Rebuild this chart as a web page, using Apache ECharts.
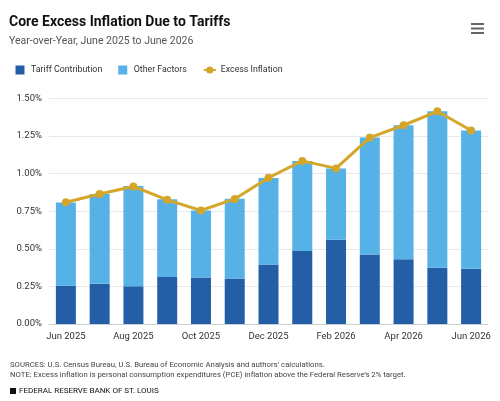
<!DOCTYPE html>
<html>
<head>
<meta charset="utf-8">
<script src="https://cdn.jsdelivr.net/npm/echarts@6/dist/echarts.min.js"></script>
<style>
    html, body { margin: 0; padding: 0; background: #fff; }
    #chart { width: 500px; height: 401px; }
</style>
</head>
<body>
<div id="chart"></div>
<script type="text/javascript">
    // months, one bar per month
    var months = ['Jun 2025', 'Jul 2025', 'Aug 2025', 'Sep 2025', 'Oct 2025', 'Nov 2025', 'Dec 2025',
        'Jan 2026', 'Feb 2026', 'Mar 2026', 'Apr 2026', 'May 2026', 'Jun 2026'];
    // percent
    var tariffContribution = [0.255, 0.267, 0.251, 0.313, 0.309, 0.302, 0.395, 0.485, 0.560, 0.462, 0.431, 0.375, 0.367];
    var otherFactors = [0.554, 0.597, 0.667, 0.516, 0.446, 0.531, 0.576, 0.600, 0.475, 0.778, 0.891, 1.040, 0.920];
    var excessInflation = [0.810, 0.865, 0.915, 0.826, 0.755, 0.832, 0.973, 1.085, 1.035, 1.240, 1.322, 1.415, 1.287];
    var yTicks = [0, 0.25, 0.5, 0.75, 1.0, 1.25, 1.5];

    var chart = echarts.init(document.getElementById('chart'));
    var font = 'Roboto, "Liberation Sans", sans-serif';

    chart.setOption({
        animation: false,
        backgroundColor: '#fff',
        textStyle: { fontFamily: font },
        title: {
            text: 'Core Excess Inflation Due to Tariffs',
            subtext: 'Year-over-Year, June 2025 to June 2026',
            left: 9,
            top: 15,
            padding: 0,
            itemGap: 7,
            textStyle: { fontSize: 14, fontWeight: 'bold', color: '#111', fontFamily: font },
            subtextStyle: { fontSize: 10.5, color: '#555', fontFamily: font }
        },
        legend: {
            left: 15.5,
            top: 65.5,
            padding: 0,
            itemWidth: 12,
            itemHeight: 9,
            itemGap: 16,
            textStyle: { fontSize: 8.8, color: '#333' },
            data: [
                { name: 'Tariff Contribution', icon: 'path://M0,0h9v9h-9z' },
                { name: 'Other Factors', icon: 'path://M0,0h9v9h-9z' },
                { name: 'Excess Inflation' }
            ]
        },
        grid: { left: 49, right: 12, top: 98.5, bottom: 77 },
        xAxis: {
            type: 'category',
            data: months,
            axisTick: { show: false },
            axisLine: { lineStyle: { color: '#ccd2d8' } },
            axisLabel: { interval: 1, fontSize: 9.5, color: '#333', margin: 8 }
        },
        yAxis: {
            type: 'value',
            min: yTicks[0],
            max: yTicks[yTicks.length - 1],
            interval: 0.25,
            splitLine: { lineStyle: { color: '#e8e8e8' } },
            axisLabel: {
                fontSize: 9.5,
                color: '#333',
                margin: 7,
                formatter: function (v) { return v.toFixed(2) + '%'; }
            }
        },
        series: [
            {
                name: 'Tariff Contribution',
                type: 'bar',
                stack: 'total',
                barWidth: 20,
                itemStyle: { color: '#245ea6' },
                data: tariffContribution
            },
            {
                name: 'Other Factors',
                type: 'bar',
                stack: 'total',
                barWidth: 20,
                itemStyle: { color: '#56b2e6' },
                data: otherFactors
            },
            {
                name: 'Excess Inflation',
                type: 'line',
                symbol: 'circle',
                symbolSize: 8,
                lineStyle: { width: 3, color: '#d4a62a' },
                itemStyle: { color: '#d4a62a' },
                data: excessInflation
            }
        ],
        graphic: [
            // menu icon
            { type: 'rect', right: 16, top: 23, shape: { width: 13, height: 2 }, style: { fill: '#666' } },
            { type: 'rect', right: 16, top: 27.5, shape: { width: 13, height: 2 }, style: { fill: '#666' } },
            { type: 'rect', right: 16, top: 32, shape: { width: 13, height: 2 }, style: { fill: '#666' } },
            {
                type: 'text', left: 10, top: 360,
                style: {
                    text: 'SOURCES: U.S. Census Bureau, U.S. Bureau of Economic Analysis and authors\u2019 calculations.\nNOTE: Excess inflation is personal consumption expenditures (PCE) inflation above the Federal Reserve\u2019s 2% target.',
                    fontSize: 7.75, lineHeight: 10, fill: '#444', fontFamily: font
                }
            },
            { type: 'rect', left: 10, top: 388, shape: { width: 6, height: 6 }, style: { fill: '#111' } },
            {
                type: 'text', left: 19, top: 387,
                style: { text: 'FEDERAL RESERVE BANK OF ST. LOUIS', fontSize: 8, fill: '#111', fontFamily: font }
            }
        ]
    });
</script>
</body>
</html>
